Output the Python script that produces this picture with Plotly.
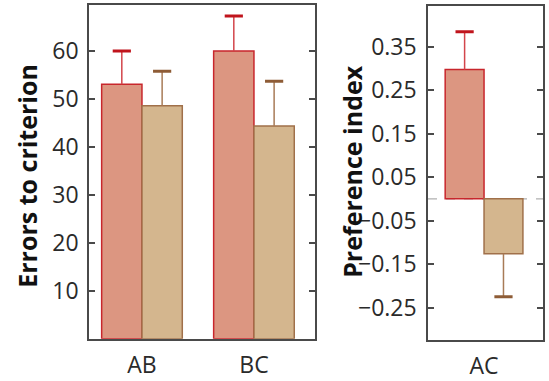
import plotly.graph_objects as go

# ---- data ----
left_categories = ["AB", "BC"]
left_red_values = [53.0, 59.9]
left_red_errors = [6.9, 7.3]
left_tan_values = [48.5, 44.3]
left_tan_errors = [7.2, 9.3]
left_tick_values = [10, 20, 30, 40, 50, 60]

right_categories = ["AC"]
right_red_values = [0.297]
right_red_errors = [0.087]
right_tan_values = [-0.126]
right_tan_errors = [0.099]
right_tick_values = [-0.25, -0.15, -0.05, 0.05, 0.15, 0.25, 0.35]

# ---- styles ----
RED_FILL = "#dc9681"
RED_EDGE = "#c8262c"
RED_STEM = "#d3454b"
RED_CAP = "#c0141c"
TAN_FILL = "#d4b68e"
TAN_EDGE = "#a0704a"
TAN_STEM = "#a87b57"
TAN_CAP = "#8e5c36"
FONT = "Open Sans"
BW = 0.36

fig = go.Figure()


def add_panel(cats, rv, re, tv, te, xa, ya, tan_down=False):
    idx = list(range(len(cats)))
    zeros = [0] * len(cats)
    fig.add_trace(go.Bar(
        x=idx, y=rv, width=BW, offset=-BW,
        marker=dict(color=RED_FILL, line=dict(color=RED_EDGE, width=1.5)),
        error_y=dict(type="data", array=re, arrayminus=zeros, symmetric=False,
                     color=RED_STEM, thickness=1.5, width=0),
        xaxis=xa, yaxis=ya, showlegend=False))
    if tan_down:
        ey = dict(type="data", array=zeros, arrayminus=te, symmetric=False,
                  color=TAN_STEM, thickness=1.5, width=0)
        tan_caps = [v - e for v, e in zip(tv, te)]
    else:
        ey = dict(type="data", array=te, arrayminus=zeros, symmetric=False,
                  color=TAN_STEM, thickness=1.5, width=0)
        tan_caps = [v + e for v, e in zip(tv, te)]
    fig.add_trace(go.Bar(
        x=idx, y=tv, width=BW, offset=0,
        marker=dict(color=TAN_FILL, line=dict(color=TAN_EDGE, width=1.5)),
        error_y=ey, xaxis=xa, yaxis=ya, showlegend=False))
    # caps
    fig.add_trace(go.Scatter(
        x=[i - BW / 2 for i in idx], y=[v + e for v, e in zip(rv, re)],
        mode="markers", marker=dict(symbol="line-ew", size=13,
                                    line=dict(color=RED_CAP, width=3)),
        xaxis=xa, yaxis=ya, showlegend=False, hoverinfo="skip"))
    fig.add_trace(go.Scatter(
        x=[i + BW / 2 for i in idx], y=tan_caps,
        mode="markers", marker=dict(symbol="line-ew", size=13,
                                    line=dict(color=TAN_CAP, width=3)),
        xaxis=xa, yaxis=ya, showlegend=False, hoverinfo="skip"))


add_panel(left_categories, left_red_values, left_red_errors,
          left_tan_values, left_tan_errors, "x", "y")
add_panel(right_categories, right_red_values, right_red_errors,
          right_tan_values, right_tan_errors, "x2", "y2", tan_down=True)

W, H = 549, 381
axis_common = dict(showline=True, linecolor="#4a4a4a", linewidth=1.5,
                   showgrid=False, zeroline=False)
tickfont = dict(family=FONT, size=23, color="#2a2a2a")

fig.update_layout(
    width=W, height=H,
    margin=dict(l=0, r=0, t=0, b=0),
    plot_bgcolor="white", paper_bgcolor="white",
    barmode="overlay",
    xaxis=dict(domain=[89 / W, 315 / W], range=[-0.473, 1.545],
               tickvals=list(range(len(left_categories))), ticktext=left_categories,
               ticks="", mirror=True, tickfont=tickfont, ticklabelstandoff=5,
               anchor="y", **axis_common),
    yaxis=dict(domain=[1 - 347 / H, 1 - 5 / H], range=[0, 69.5],
               tickvals=left_tick_values, ticks="inside", ticklen=6,
               tickcolor="#4a4a4a", tickwidth=1.5, mirror="ticks",
               tickfont=tickfont, ticklabelstandoff=4, anchor="x", **axis_common),
    xaxis2=dict(domain=[428 / W, 543 / W], range=[-0.519, 0.546],
                tickvals=list(range(len(right_categories))), ticktext=right_categories,
                ticks="", mirror=True, tickfont=tickfont, ticklabelstandoff=5,
                anchor="y2", **axis_common),
    yaxis2=dict(domain=[1 - 348 / H, 1 - 6 / H], range=[-0.324, 0.4435],
                tickvals=right_tick_values, tickformat=".2f", ticks="inside",
                ticklen=6, tickcolor="#4a4a4a", tickwidth=1.5, mirror="ticks",
                tickfont=tickfont, ticklabelstandoff=5, anchor="x2", **axis_common),
)

fig.add_shape(type="line", xref="x2 domain", yref="y2", x0=0, x1=1, y0=0, y1=0,
              line=dict(color="#b0b0b0", width=1.2, dash="dash"), layer="below")

fig.add_annotation(text="<b>Errors to criterion</b>", xref="paper", yref="paper",
                   x=27 / W, y=1 - 180 / H, textangle=-90, showarrow=False,
                   font=dict(family=FONT, size=25, color="#111111"),
                   xanchor="center", yanchor="middle")
fig.add_annotation(text="<b>Preference index</b>", xref="paper", yref="paper",
                   x=352 / W, y=1 - 176 / H, textangle=-90, showarrow=False,
                   font=dict(family=FONT, size=25, color="#111111"),
                   xanchor="center", yanchor="middle")

fig.write_html("out.html")
